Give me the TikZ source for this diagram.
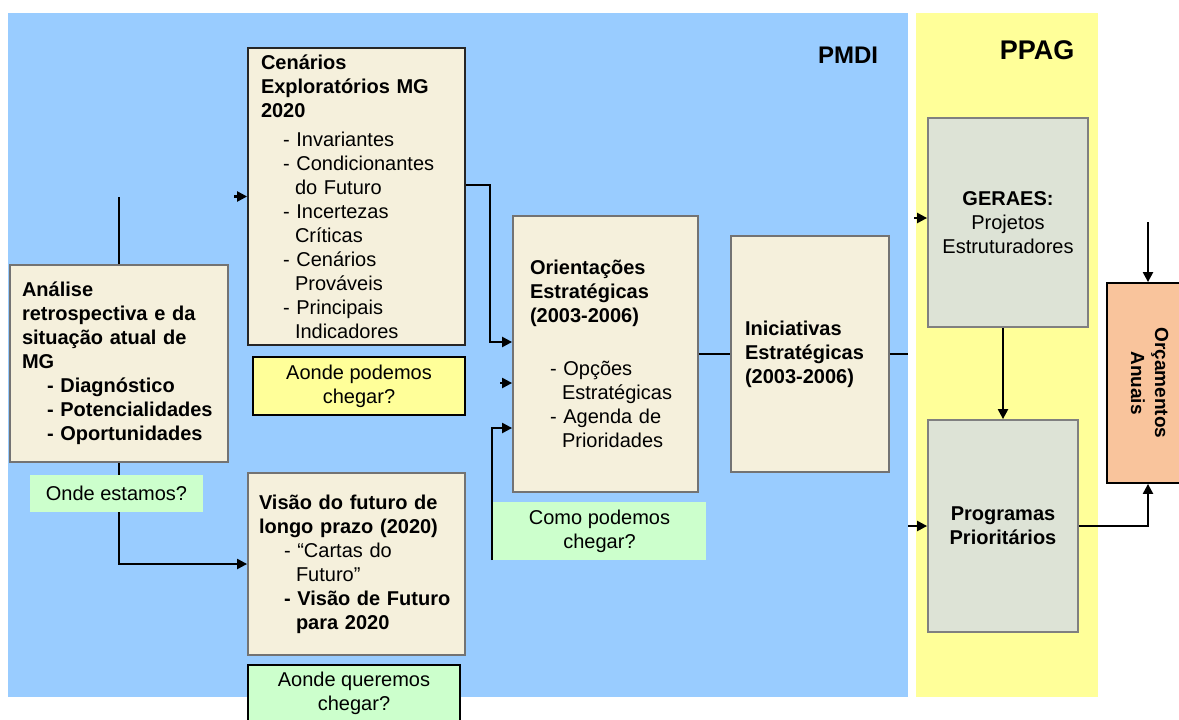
\documentclass[tikz,border=0pt]{standalone}
\usepackage{fontspec}
\setmainfont{Liberation Sans}
\usepackage{tikz}
\usetikzlibrary{arrows.meta}
\definecolor{pmdiblue}{HTML}{99CCFF}
\definecolor{ppagyellow}{HTML}{FFFF99}
\definecolor{boxcream}{HTML}{F5F0DC}
\definecolor{labelgreen}{HTML}{CCFFCC}
\definecolor{ppaggray}{HTML}{DDE3D6}
\definecolor{orcpeach}{HTML}{F9C49C}
\tikzset{
  stagebox/.style={draw=black!55, line width=1.8pt, fill=boxcream, inner xsep=12pt, inner ysep=4pt, align=left},
  question/.style={fill=labelgreen, align=center, inner sep=2pt},
  ppagbox/.style={draw=black!50, line width=1.8pt, fill=ppaggray, align=center},
  link/.style={line width=2.2pt},
  arr/.style={line width=2.2pt, -{Triangle[length=10pt,width=10pt]}},
}

\begin{document}
\begin{tikzpicture}[x=1pt, y=-1pt, font=\fontsize{20}{24}\selectfont]
\fill[white] (0,0) rectangle (1179,720);
\useasboundingbox (0,0) rectangle (1179,720);
%%%%% Panels %%%%%
\fill[pmdiblue] (8,13) rectangle (908,697);
\fill[ppagyellow] (916,13) rectangle (1098,697);
\node[font=\fontsize{24}{28}\selectfont\bfseries] (pmdi) at (848,55) {PMDI};
\node[font=\fontsize{27}{30}\selectfont\bfseries] (ppag) at (1037,50) {PPAG};

%%%%% PMDI boxes %%%%%
\node[stagebox, minimum width=218pt, minimum height=197pt, text width=194pt, font=\fontsize{20}{24}\selectfont\bfseries] (ana) at (119,363.5)
  {Análise\\ retrospectiva e da\\ situação atual de\\ MG\\
   \hspace*{25pt}-~Diagnóstico\\ \hspace*{25pt}-~Potencialidades\\ \hspace*{25pt}-~Oportunidades};
\node[stagebox, draw=black!85, minimum width=217pt, minimum height=297pt, text width=191pt, inner xsep=13pt] (cen) at (356.5,196.5)
  {\textbf{Cenários}\\ \textbf{Exploratórios MG}\\ \textbf{2020}\\[5pt]
   \hspace*{22pt}-~Invariantes\\ \hspace*{22pt}-~Condicionantes\\ \hspace*{34pt}do Futuro\\
   \hspace*{22pt}-~Incertezas\\ \hspace*{34pt}Críticas\\ \hspace*{22pt}-~Cenários\\ \hspace*{34pt}Prováveis\\
   \hspace*{22pt}-~Principais\\ \hspace*{34pt}Indicadores};
\node[stagebox, minimum width=217pt, minimum height=182pt, text width=195pt, inner xsep=11pt] (vis) at (356.5,564)
  {\textbf{Visão do futuro de}\\ \textbf{longo prazo (2020)}\\
   \hspace*{25pt}-~“Cartas do\\ \hspace*{37pt}Futuro”\\
   \hspace*{25pt}\textbf{-~Visão de Futuro}\\ \hspace*{37pt}\textbf{para 2020}};
\node[stagebox, minimum width=185pt, minimum height=276pt, text width=151pt, inner xsep=17pt] (ori) at (605.5,354)
  {\textbf{Orientações}\\ \textbf{Estratégicas}\\ \textbf{(2003-2006)}\\[29pt]
   \hspace*{20pt}-~Opções\\ \hspace*{32pt}Estratégicas\\ \hspace*{20pt}-~Agenda de\\ \hspace*{32pt}Prioridades};
\node[stagebox, minimum width=158pt, minimum height=236pt, text width=130pt, inner xsep=14pt, font=\fontsize{20}{24}\selectfont\bfseries] (ini) at (810,354)
  {Iniciativas\\ Estratégicas\\ (2003-2006)\\[-4pt]};

%%%%% PPAG boxes %%%%%
\node[ppagbox, minimum width=160pt, minimum height=209pt] (ger) at (1008,222.5)
  {\textbf{GERAES:}\\ Projetos\\ Estruturadores};
\node[ppagbox, minimum width=150pt, minimum height=212pt, font=\fontsize{20}{24}\selectfont\bfseries] (prg) at (1003,526)
  {Programas\\ Prioritários};
\node[draw=black, line width=1.8pt, fill=orcpeach, minimum width=82pt, minimum height=200pt, font=\fontsize{19}{24}\selectfont\bfseries] (orc) at (1148,383)
  {\rotatebox{-90}{\begin{tabular}{@{}c@{}}Orçamentos\\ Anuais\end{tabular}}};

%%%%% Connectors %%%%%
\coordinate (anatop) at (119,197);
\draw[link] (ana.north) -- (anatop);
\draw[arr] (ana.south) |- (vis.west);
\coordinate (censtub) at (234,196.5);
\draw[arr] (censtub) -- (cen.west);
\draw[arr] (cen.east |- 0,185) -| (490,342) -- (ori.west |- 0,342);
\coordinate (oristub) at (500,383);
\draw[arr] (oristub) -- (ori.west |- oristub);
\coordinate (comofoot) at (492,560);
\draw[arr] (comofoot) |- (ori.west |- 0,428);
\draw[link] (ori.east) -- (ini.west);
\coordinate (iniend) at (908,354);
\draw[link] (ini.east) -- (iniend);
\coordinate (gerstub) at (914,218);
\draw[arr] (gerstub) -- (ger.west |- gerstub);
\coordinate (prgstub) at (908,526);
\draw[arr] (prgstub) -- (prg.west);
\draw[arr] (prg.north |- ger.south) -- (prg.north);
\coordinate (orctop) at (1148,222);
\draw[arr] (orctop) -- (orc.north);
\draw[arr] (prg.east) -| (orc.south);

%%%%% Questions %%%%%
\node[question, minimum width=173pt, minimum height=37pt] (q0) at (116.5,493.5) {Onde estamos?};
\node[question, draw=black, line width=1.8pt, fill=ppagyellow, minimum width=212pt, minimum height=58pt] (q1) at (359,386) {Aonde podemos\\ chegar?};
\node[question, minimum width=213pt, minimum height=58pt] (q2) at (599.5,531) {Como podemos\\ chegar?};
\node[question, draw=black, line width=1.8pt, minimum width=212pt, minimum height=57pt] (q3) at (354,693.5) {Aonde queremos\\ chegar?};
\end{tikzpicture}
\end{document}
